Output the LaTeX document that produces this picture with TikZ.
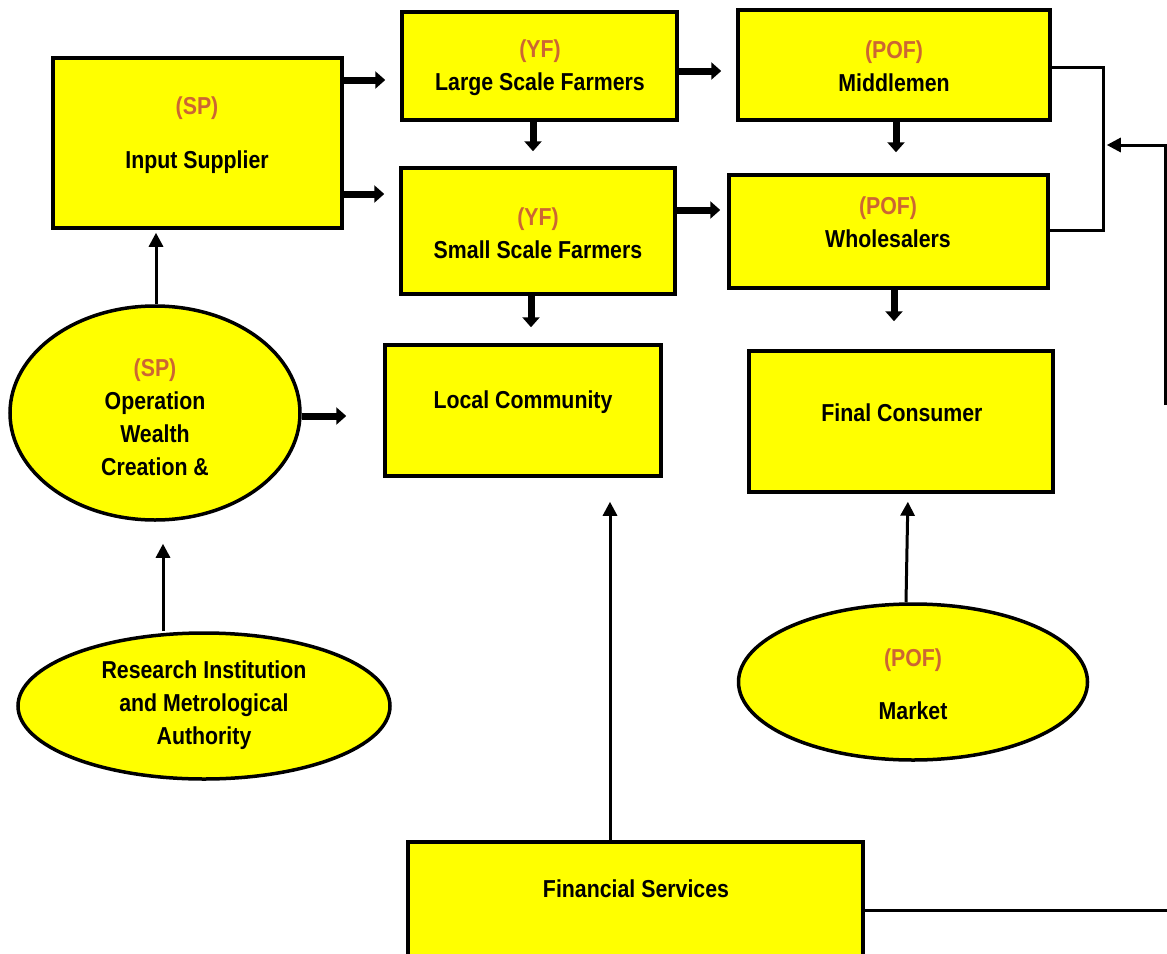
\documentclass[tikz,border=0pt]{standalone}
\usepackage{fontspec}
\setmainfont{Liberation Sans}[FakeStretch=0.87]
\usetikzlibrary{arrows.meta,shapes.geometric}
\definecolor{chainyellow}{RGB}{255,255,0}
\definecolor{rolecol}{RGB}{204,102,51}
\begin{document}
\begin{tikzpicture}[x=1pt,y=-1pt,
  box/.style={draw=black, line width=3.5pt, fill=chainyellow, inner sep=0pt, rectangle},
  oval/.style={draw=black, line width=3.5pt, fill=chainyellow, inner sep=0pt, ellipse},
  lbl/.style={font=\bfseries\fontsize{24.5}{33}\selectfont, align=center, inner sep=0pt},
  fat/.style={line width=7pt, -{Triangle[length=10pt,width=17pt]}},
  thin/.style={line width=3pt, -{Triangle[length=14pt,width=14pt]}},
  link/.style={line width=3pt}]
\useasboundingbox (0,0) rectangle (1167,953);
\clip (0,0) rectangle (1167,953);

% boxes
\node[box, minimum width=289pt, minimum height=170pt] (input)  at (197.5,143) {};
\node[box, minimum width=275pt, minimum height=108pt] (large)  at (539.5,66) {};
\node[box, minimum width=312pt, minimum height=110pt] (middle) at (894,65) {};
\node[box, minimum width=274pt, minimum height=126pt] (small)  at (538,231) {};
\node[box, minimum width=319pt, minimum height=113pt] (whole)  at (888.5,231.5) {};
\node[box, minimum width=276pt, minimum height=131pt] (local)  at (523,410.5) {};
\node[box, minimum width=304pt, minimum height=141pt] (final)  at (901,421.5) {};
\node[box, minimum width=455pt, minimum height=118pt] (fin)    at (635.5,901) {};

% ellipses
\node[oval, minimum width=290pt, minimum height=214pt] (spell)    at (155,413) {};
\node[oval, minimum width=372pt, minimum height=146pt] (research) at (204,706) {};
\node[oval, minimum width=349pt, minimum height=156pt] (market)   at (913,682) {};

% labels
\node[lbl] (t-input)  at (197,135)   {\textcolor{rolecol}{(SP)}\\[21pt]Input Supplier};
\node[lbl] (t-large)  at (540,67.5)  {\textcolor{rolecol}{(YF)}\\Large Scale Farmers};
\node[lbl] (t-middle) at (894,66)    {\textcolor{rolecol}{(POF)}\\Middlemen};
\node[lbl] (t-small)  at (538,233.5) {\textcolor{rolecol}{(YF)}\\Small Scale Farmers};
\node[lbl] (t-whole)  at (888,222.5) {\textcolor{rolecol}{(POF)}\\Wholesalers};
\node[lbl] (t-local)  at (523,402)   {Local Community};
\node[lbl] (t-final)  at (902,413)   {Final Consumer};
\node[lbl] (t-spell)  at (155,417.5) {\textcolor{rolecol}{(SP)}\\Operation\\Wealth\\Creation \&};
\node[lbl] (t-research) at (204,705) {Research Institution\\and Metrological\\Authority};
\node[lbl] (t-market) at (913,684.5) {\textcolor{rolecol}{(POF)}\\[20pt]Market};
\node[lbl] (t-fin)    at (636,889)   {Financial Services};

% flows along the chain
\draw[fat, shorten >=15pt] (input.east |- 0,80)  -- (large.west |- 0,80);
\draw[fat, shorten >=15pt] (input.east |- 0,194) -- (small.west |- 0,194);
\draw[fat, shorten >=15pt] (large.east |- 0,71)  -- (middle.west |- 0,71);
\draw[fat, shorten >=7pt]  (small.east |- 0,210) -- (whole.west |- 0,210);
\draw[fat, shorten >=15pt] (large.south -| 533,0) -- (small.north -| 533,0);
\draw[fat, shorten >=21pt] (middle.south -| 896,0) -- (whole.north -| 896,0);
\draw[fat, shorten >=16pt] (small.south -| 531,0) -- (local.north -| 531,0);
\draw[fat, shorten >=28pt] (whole.south -| 894,0) -- (final.north -| 894,0);
\draw[fat, shorten >=37pt] (spell.east |- 0,416) -- (local.west |- 0,416);

% support links
\draw[thin, shorten >=3pt] (spell.north -| 156,0) -- (input.south -| 156,0);
\draw[thin, shorten >=22pt] ([xshift=-41pt]research.north) coordinate (r1) -- (r1 |- spell.south);
\draw[thin, shorten >=24pt] ([xshift=-25.5pt]fin.north) -- ([xshift=87pt]local.south);
\draw[thin, shorten >=8pt] ([xshift=-7pt]market.north) -- ([xshift=7pt]final.south);

% bracket joining middlemen and wholesalers
\draw[link] ([yshift=-2pt]middle.east) -- ++(52,0) coordinate (b1)
  |- ([yshift=1.5pt]whole.east);
\coordinate (join) at (b1 |- 0,145);
\coordinate (rb) at (1165,405);
\draw[thin, shorten >=3pt] (rb) |- (join);

% financial services line to the right edge
\coordinate (edge) at (1170,910);
\draw[link] (fin.east |- edge) -- (edge);
\end{tikzpicture}
\end{document}
